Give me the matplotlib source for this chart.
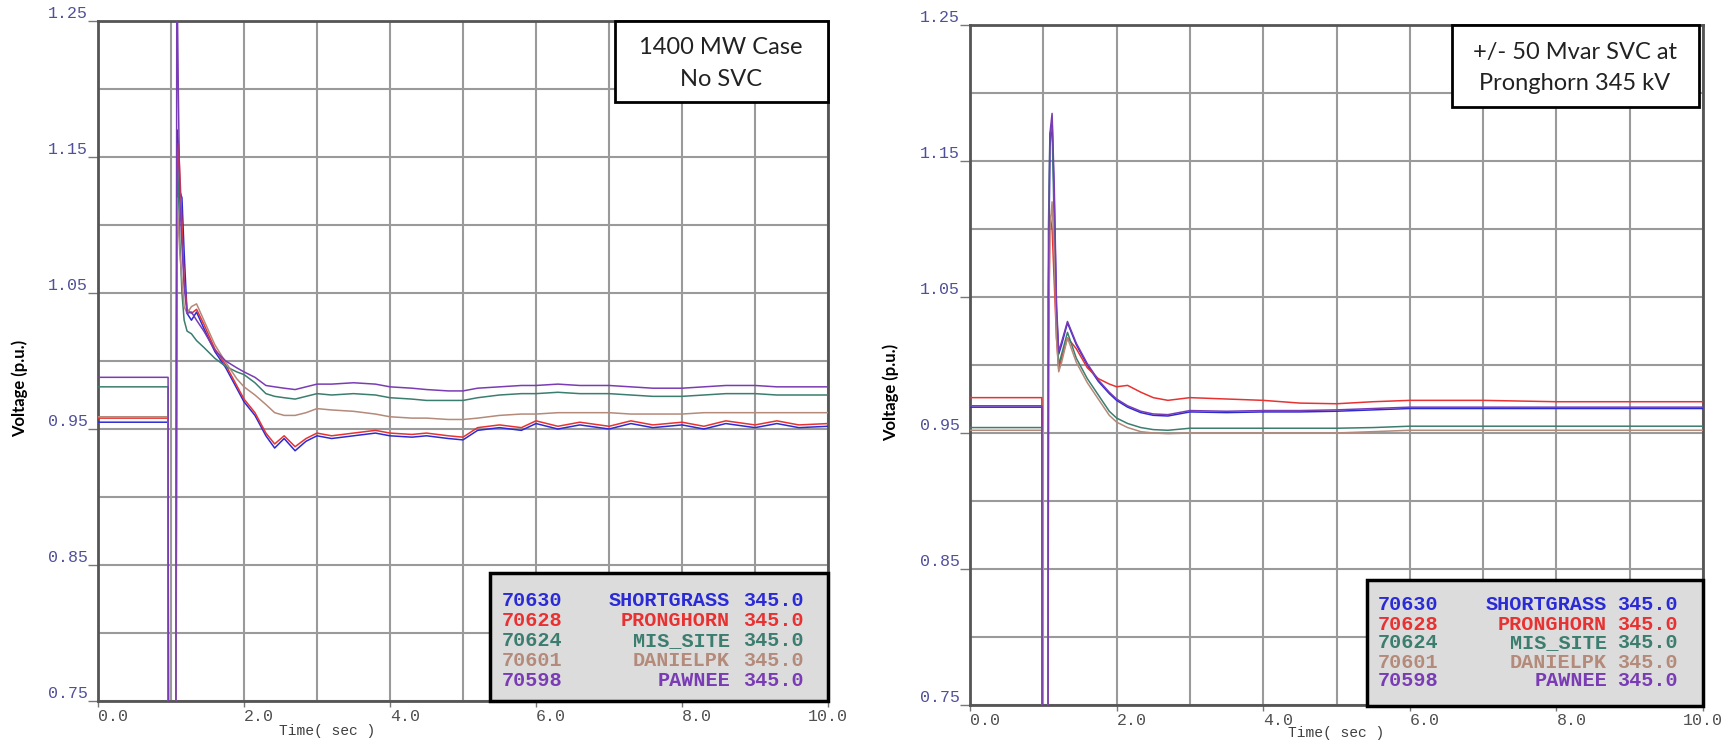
import matplotlib
matplotlib.use("Agg")
import matplotlib.pyplot as plt
from matplotlib.patches import Rectangle
from matplotlib.ticker import MultipleLocator, FixedLocator

# ---------------- data ----------------
bus_ids = ["70630", "70628", "70624", "70601", "70598"]
bus_names = ["SHORTGRASS", "PRONGHORN", "MIS_SITE", "DANIELPK", "PAWNEE"]
bus_kv = ["345.0", "345.0", "345.0", "345.0", "345.0"]
colors = ["#2b2bd6", "#e83232", "#3b7d6e", "#b48a7a", "#7a3cb4"]

# Left panel: 1400 MW case, no SVC
t_left = [0.0, 0.96, 0.97, 1.06, 1.08, 1.10, 1.12, 1.15, 1.18, 1.22, 1.28, 1.35,
          1.45, 1.6, 1.75, 1.9, 2.0, 2.15, 2.3, 2.42, 2.55, 2.7, 2.85, 3.0, 3.2,
          3.5, 3.8, 4.0, 4.3, 4.5, 4.8, 5.0, 5.2, 5.5, 5.8, 6.0, 6.3, 6.6, 7.0,
          7.3, 7.6, 8.0, 8.3, 8.6, 9.0, 9.3, 9.6, 10.0]
left_shortgrass = [0.955, 0.955, 0.40, 0.40, 1.17, 1.16, 1.125, 1.12, 1.08, 1.035, 1.03, 1.036,
                   1.024, 1.007, 0.995, 0.980, 0.970, 0.960, 0.945, 0.936, 0.943, 0.934, 0.941, 0.945, 0.943,
                   0.945, 0.947, 0.945, 0.944, 0.945, 0.943, 0.942, 0.949, 0.951, 0.949, 0.954, 0.950, 0.953, 0.950,
                   0.954, 0.951, 0.953, 0.950, 0.954, 0.951, 0.954, 0.951, 0.952]
left_pronghorn = [0.958, 0.958, 0.40, 0.40, 1.10, 1.16, 1.14, 1.10, 1.06, 1.038, 1.035, 1.038,
                  1.027, 1.009, 0.997, 0.982, 0.972, 0.962, 0.947, 0.939, 0.945, 0.937, 0.943, 0.947, 0.945,
                  0.947, 0.949, 0.947, 0.946, 0.947, 0.945, 0.944, 0.951, 0.953, 0.951, 0.956, 0.952, 0.955, 0.952,
                  0.956, 0.953, 0.955, 0.952, 0.956, 0.953, 0.956, 0.953, 0.954]
left_mis_site = [0.981, 0.981, 0.40, 0.40, 1.15, 1.13, 1.09, 1.05, 1.03, 1.022, 1.02, 1.015,
                 1.010, 1.002, 0.996, 0.992, 0.990, 0.984, 0.976, 0.974, 0.973, 0.972, 0.974, 0.976, 0.975,
                 0.976, 0.975, 0.973, 0.972, 0.971, 0.971, 0.971, 0.973, 0.975, 0.976, 0.976, 0.977, 0.976, 0.976,
                 0.975, 0.974, 0.974, 0.975, 0.976, 0.976, 0.975, 0.975, 0.975]
left_danielpk = [0.959, 0.959, 0.40, 0.40, 1.12, 1.10, 1.08, 1.06, 1.04, 1.035, 1.04, 1.042,
                 1.03, 1.012, 0.999, 0.987, 0.981, 0.975, 0.968, 0.962, 0.960, 0.960, 0.962, 0.965, 0.964,
                 0.963, 0.961, 0.959, 0.958, 0.958, 0.957, 0.957, 0.958, 0.960, 0.961, 0.961, 0.962, 0.962, 0.962,
                 0.961, 0.961, 0.961, 0.962, 0.962, 0.962, 0.962, 0.962, 0.962]
left_pawnee = [0.988, 0.988, 0.40, 0.40, 1.30, 1.20, 1.12, 1.085, 1.055, 1.035, 1.036, 1.03,
               1.022, 1.008, 1.000, 0.995, 0.992, 0.988, 0.982, 0.981, 0.980, 0.979, 0.981, 0.983, 0.983,
               0.984, 0.983, 0.981, 0.980, 0.979, 0.978, 0.978, 0.980, 0.981, 0.982, 0.982, 0.983, 0.982, 0.982,
               0.981, 0.980, 0.980, 0.981, 0.982, 0.982, 0.981, 0.981, 0.981]

# Right panel: +/- 50 Mvar SVC at Pronghorn 345 kV
t_right = [0.0, 0.98, 0.99, 1.06, 1.07, 1.09, 1.12, 1.15, 1.18, 1.21, 1.25, 1.33, 1.45,
           1.6, 1.75, 1.9, 2.0, 2.15, 2.33, 2.5, 2.7, 3.0, 3.5, 4.0, 4.5, 5.0, 5.5,
           6.0, 7.0, 8.0, 9.0, 10.0]
right_shortgrass = [0.969, 0.969, 0.40, 0.40, 1.05, 1.16, 1.18, 1.12, 1.04, 1.008, 1.015, 1.031, 1.015,
                    1.000, 0.988, 0.979, 0.974, 0.969, 0.965, 0.963, 0.9625, 0.9655, 0.965, 0.9655, 0.9655, 0.966, 0.967,
                    0.968, 0.968, 0.968, 0.968, 0.968]
right_pronghorn = [0.976, 0.976, 0.40, 0.40, 1.00, 1.11, 1.10, 1.06, 1.02, 0.997, 1.005, 1.02, 1.012,
                   0.998, 0.990, 0.986, 0.984, 0.985, 0.980, 0.976, 0.974, 0.976, 0.975, 0.974, 0.972, 0.9715, 0.973,
                   0.974, 0.974, 0.973, 0.973, 0.973]
right_mis_site = [0.954, 0.954, 0.40, 0.40, 1.10, 1.17, 1.175, 1.10, 1.03, 1.00, 1.008, 1.024, 1.005,
                  0.990, 0.978, 0.966, 0.961, 0.957, 0.954, 0.9525, 0.952, 0.9535, 0.9535, 0.9535, 0.9535, 0.9535, 0.954,
                  0.955, 0.955, 0.955, 0.955, 0.955]
right_danielpk = [0.952, 0.952, 0.40, 0.40, 1.00, 1.10, 1.12, 1.08, 1.02, 0.995, 1.002, 1.02, 1.002,
                  0.987, 0.975, 0.963, 0.958, 0.954, 0.951, 0.950, 0.9495, 0.950, 0.950, 0.950, 0.950, 0.950, 0.951,
                  0.952, 0.952, 0.952, 0.952, 0.952]
right_pawnee = [0.970, 0.970, 0.40, 0.40, 1.06, 1.17, 1.185, 1.13, 1.045, 1.01, 1.017, 1.032, 1.016,
                1.001, 0.989, 0.980, 0.975, 0.970, 0.966, 0.964, 0.9635, 0.9665, 0.966, 0.9665, 0.9665, 0.967, 0.968,
                0.969, 0.969, 0.969, 0.969, 0.969]

x_ticks = [0.0, 2.0, 4.0, 6.0, 8.0, 10.0]
x_tick_labels = ["0.0", "2.0", "4.0", "6.0", "8.0", "10.0"]
y_ticks = [0.75, 0.85, 0.95, 1.05, 1.15, 1.25]
y_tick_labels = ["0.75", "0.85", "0.95", "1.05", "1.15", "1.25"]

# ---------------- layout ----------------
W, H = 1730, 743
fig = plt.figure(figsize=(W / 100, H / 100), dpi=100)
fig.patch.set_facecolor("white")


def rect(l, t, r, b):
    return [l / W, 1 - b / H, (r - l) / W, (b - t) / H]


mono = "Liberation Mono"
sans = "Lato"


def setup(ax, t, series):
    for vals, c in zip(series, colors):
        ax.plot(t, vals, color=c, lw=1.1, zorder=3)
    ax.set_xlim(0, 10)
    ax.set_ylim(0.75, 1.25)
    ax.xaxis.set_major_locator(FixedLocator(x_ticks))
    ax.xaxis.set_minor_locator(MultipleLocator(1.0))
    ax.yaxis.set_major_locator(FixedLocator(y_ticks))
    ax.yaxis.set_minor_locator(MultipleLocator(0.05))
    ax.set_xticklabels(x_tick_labels)
    ax.set_yticklabels(y_tick_labels)
    ax.grid(True, which="both", color="#9a9a9a", lw=1.5, zorder=1)
    ax.set_axisbelow(True)
    for s in ax.spines.values():
        s.set_color("#555555")
        s.set_linewidth(2.0)
    ax.tick_params(axis="y", which="major", length=7.5, width=1.0, color="#777777",
                   pad=0, labelsize=12, labelcolor="#50509a")
    ax.tick_params(axis="x", which="major", length=4, width=1.0, color="#777777",
                   pad=2, labelsize=12, labelcolor="#505050")
    ax.tick_params(which="minor", length=0)
    for lab in ax.get_yticklabels():
        lab.set_fontfamily(mono)
        lab.set_va("bottom")
    labs = ax.get_xticklabels()
    for i, lab in enumerate(labs):
        lab.set_fontfamily(mono)
        lab.set_ha("center" if i == len(labs) - 1 else "left")


ax1 = fig.add_axes(rect(98, 21, 828, 701))
ax2 = fig.add_axes(rect(970, 25, 1703, 705))
setup(ax1, t_left, [left_shortgrass, left_pronghorn, left_mis_site, left_danielpk, left_pawnee])
setup(ax2, t_right, [right_shortgrass, right_pronghorn, right_mis_site, right_danielpk, right_pawnee])


def box(l, t, r, b, fc, lw):
    fig.add_artist(Rectangle((l / W, 1 - b / H), (r - l) / W, (b - t) / H,
                             transform=fig.transFigure, facecolor=fc,
                             edgecolor="black", lw=lw, zorder=5))


def ftext(x, y, s, **kw):
    fig.text(x / W, 1 - y / H, s, zorder=6, **kw)


# annotation boxes
box(615, 21, 828, 102, "white", 2.0)
ftext(721, 47, "1400 MW Case", ha="center", va="center", fontsize=17, family=sans, color="#222222")
ftext(721, 80, "No SVC", ha="center", va="center", fontsize=17, family=sans, color="#222222")
box(1452, 25, 1699, 107, "white", 2.0)
ftext(1575, 52, "+/- 50 Mvar SVC at", ha="center", va="center", fontsize=17, family=sans, color="#222222")
ftext(1575, 84, "Pronghorn 345 kV", ha="center", va="center", fontsize=17, family=sans, color="#222222")


# legends
def legend(l, t, r, b, xnum, xname, xkv, rows):
    box(l, t, r, b, "#dcdcdc", 2.5)
    for i in range(len(bus_ids)):
        y = rows[i]
        kw = dict(va="center", fontsize=14.5, family=mono, fontweight="bold", color=colors[i])
        ftext(xnum, y, bus_ids[i], ha="left", **kw)
        ftext(xname, y, bus_names[i], ha="right", **kw)
        ftext(xkv, y, bus_kv[i], ha="left", **kw)


legend(490, 573, 828, 701, 502, 730, 743, [600, 621, 641, 661, 681])
legend(1367, 580, 1703, 706, 1378, 1607, 1617, [605, 624, 643, 662, 681])

# axis labels
ftext(327, 731, "Time( sec )", ha="center", va="center", fontsize=10.5, family=mono, color="#404040")
ftext(1336, 733, "Time( sec )", ha="center", va="center", fontsize=10.5, family=mono, color="#404040")
ftext(20, 388, "Voltage (p.u.)", ha="center", va="center", rotation=90, fontsize=12,
      family=sans, fontweight="bold", color="black")
ftext(891, 392, "Voltage (p.u.)", ha="center", va="center", rotation=90, fontsize=12,
      family=sans, fontweight="bold", color="black")

fig.savefig("out.png", dpi=100)
